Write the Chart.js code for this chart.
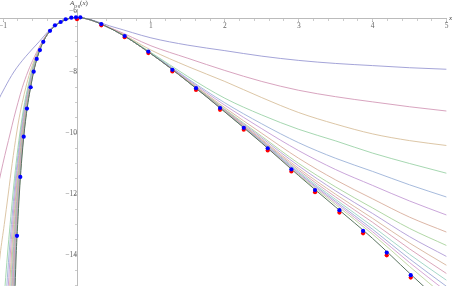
<!DOCTYPE html>
<html><head><meta charset="utf-8">
<script src="https://cdn.jsdelivr.net/npm/chart.js@4/dist/chart.umd.min.js"></script>
<style>
html,body{margin:0;padding:0;background:#fff;}
#wrap{position:relative;width:454px;height:286px;overflow:hidden;}
canvas{display:block;}
.lbl{position:absolute;font-family:"Liberation Serif","DejaVu Serif",serif;color:#444;font-size:7px;line-height:7px;white-space:nowrap;}
.lbl sub{font-size:4.5px;vertical-align:-1.5px;}
</style></head><body>
<div id="wrap"><canvas id="c" width="454" height="286"></canvas>
<div class="lbl" style="left:70px;top:0px;"><i>A</i><sub>reg</sub>(<i>x</i>)</div>
<div class="lbl" style="left:449px;top:15px;"><i>x</i></div>
</div>
<script>
// shared sample levels
const Y_LEFT  = [-16,-15,-14,-13,-12,-11,-10,-9.5,-9,-8.5,-8,-7.5,-7];
const X_RIGHT = [-0.35,-0.2,-0.1,0,0.5,1,1.5,2,2.5,3,3.5,4,4.5,5];

// limit curve
const limitLeftX  = [-0.851,-0.837,-0.823,-0.803,-0.780,-0.752,-0.715,-0.691,-0.663,-0.627,-0.587,-0.534,-0.455];
const limitRightY = [-6.607,-6.335,-6.24,-6.215,-6.63,-7.40,-8.32,-9.31,-10.33,-11.40,-12.43,-13.46,-14.60,-15.72];

// family of approximating curves: x at Y_LEFT levels (left branch), y at X_RIGHT (right branch)
const curveLeftX = [
  [-2.15,-2.0,-1.85,-1.7,-1.55,-1.4,-1.25,-1.17,-1.08,-0.974,-0.855,-0.697,-0.51],
  [-1.39,-1.32,-1.25,-1.17,-1.09,-1.002,-0.903,-0.853,-0.798,-0.739,-0.666,-0.576,-0.470],
  [-1.12,-1.08,-1.04,-0.984,-0.930,-0.877,-0.817,-0.782,-0.740,-0.692,-0.635,-0.560,-0.466],
  [-1.003,-0.973,-0.941,-0.905,-0.867,-0.824,-0.773,-0.743,-0.708,-0.665,-0.617,-0.554,-0.463],
  [-0.976,-0.949,-0.920,-0.887,-0.852,-0.811,-0.763,-0.734,-0.700,-0.658,-0.612,-0.551,-0.461],
  [-0.954,-0.929,-0.903,-0.872,-0.839,-0.801,-0.755,-0.726,-0.693,-0.653,-0.607,-0.548,-0.459],
  [-0.934,-0.911,-0.887,-0.859,-0.827,-0.791,-0.747,-0.719,-0.687,-0.648,-0.603,-0.545,-0.458],
  [-0.917,-0.896,-0.874,-0.847,-0.818,-0.783,-0.740,-0.713,-0.682,-0.644,-0.600,-0.543,-0.458],
  [-0.904,-0.884,-0.864,-0.838,-0.810,-0.777,-0.735,-0.709,-0.679,-0.640,-0.597,-0.541,-0.457],
  [-0.894,-0.875,-0.856,-0.832,-0.804,-0.772,-0.731,-0.705,-0.676,-0.638,-0.595,-0.540,-0.457],
  [-0.883,-0.866,-0.848,-0.825,-0.799,-0.767,-0.727,-0.702,-0.673,-0.635,-0.593,-0.538,-0.456],
  [-0.877,-0.860,-0.843,-0.820,-0.795,-0.764,-0.725,-0.700,-0.671,-0.633,-0.592,-0.537,-0.456],
  [-0.870,-0.854,-0.838,-0.816,-0.791,-0.761,-0.722,-0.697,-0.669,-0.632,-0.591,-0.537,-0.456],
  [-0.864,-0.849,-0.833,-0.812,-0.788,-0.758,-0.720,-0.696,-0.667,-0.630,-0.590,-0.536,-0.455],
  [-0.859,-0.844,-0.829,-0.808,-0.784,-0.756,-0.718,-0.694,-0.665,-0.629,-0.589,-0.535,-0.455]
];
const curveRightY = [
  [-6.57,-6.32,-6.235,-6.215,-6.53,-6.88,-7.12,-7.30,-7.48,-7.62,-7.72,-7.79,-7.86,-7.91],
  [-6.585,-6.33,-6.24,-6.215,-6.60,-7.14,-7.55,-7.95,-8.31,-8.60,-8.81,-8.98,-9.14,-9.28],
  [-6.595,-6.333,-6.24,-6.215,-6.61,-7.28,-7.82,-8.31,-8.84,-9.33,-9.71,-10.03,-10.25,-10.41],
  [-6.60,-6.335,-6.24,-6.215,-6.625,-7.36,-8.15,-8.86,-9.41,-9.88,-10.26,-10.66,-11.00,-11.32],
  [-6.607,-6.335,-6.24,-6.215,-6.63,-7.38,-8.22,-9.01,-9.70,-10.32,-10.83,-11.26,-11.70,-12.10],
  [-6.607,-6.335,-6.24,-6.215,-6.63,-7.39,-8.25,-9.09,-9.86,-10.58,-11.20,-11.72,-12.23,-12.69],
  [-6.607,-6.335,-6.24,-6.215,-6.63,-7.40,-8.28,-9.17,-10.01,-10.83,-11.54,-12.16,-12.76,-13.25],
  [-6.607,-6.335,-6.24,-6.215,-6.63,-7.40,-8.29,-9.22,-10.11,-11.00,-11.77,-12.46,-13.13,-13.69],
  [-6.607,-6.335,-6.24,-6.215,-6.63,-7.40,-8.30,-9.24,-10.16,-11.08,-11.90,-12.64,-13.40,-14.05],
  [-6.607,-6.335,-6.24,-6.215,-6.63,-7.40,-8.30,-9.26,-10.21,-11.16,-12.01,-12.80,-13.61,-14.34],
  [-6.607,-6.335,-6.24,-6.215,-6.63,-7.40,-8.31,-9.27,-10.24,-11.22,-12.10,-12.93,-13.80,-14.61],
  [-6.607,-6.335,-6.24,-6.215,-6.63,-7.40,-8.31,-9.28,-10.26,-11.27,-12.18,-13.06,-13.98,-14.83],
  [-6.607,-6.335,-6.24,-6.215,-6.63,-7.40,-8.315,-9.29,-10.28,-11.31,-12.24,-13.16,-14.13,-15.03],
  [-6.607,-6.335,-6.24,-6.215,-6.63,-7.40,-8.32,-9.30,-10.30,-11.34,-12.29,-13.24,-14.25,-15.20],
  [-6.607,-6.335,-6.24,-6.215,-6.63,-7.40,-8.32,-9.31,-10.32,-11.37,-12.35,-13.32,-14.38,-15.40]
];
const curveColors = ['#9a9ad4','#d49ab8','#d8c09c','#9cd2a8','#9cb2d8','#c49cd6','#d8ae9c','#a8d29c',
                     '#b09cd6','#d6b49c','#d69cb2','#9cd2c2','#9ca8d6','#d29cd0','#bcd29c'];

// sample points
const blueX = [-0.812,-0.767,-0.721,-0.677,-0.627,-0.586,-0.545,-0.501,-0.456,-0.365,-0.298,-0.221,-0.153,-0.077,-0.014,0.045,
               0.329,0.645,0.965,1.29,1.61,1.935,2.256,2.58,2.90,3.22,3.55,3.87,4.19,4.515];
const blueY = [-13.37,-11.44,-10.12,-9.20,-8.50,-7.99,-7.57,-7.28,-7.01,-6.65,-6.47,-6.36,-6.27,-6.22,-6.207,-6.207,
               -6.43,-6.82,-7.33,-7.93,-8.53,-9.18,-9.83,-10.50,-11.19,-11.87,-12.53,-13.21,-13.92,-14.66];
const redX = [0,0.329,0.645,0.965,1.29,1.61,1.935,2.256,2.58,2.90,3.22,3.55,3.87,4.19,4.515];
const redY = [-6.27,-6.47,-6.86,-7.38,-7.98,-8.59,-9.24,-9.89,-10.57,-11.26,-11.94,-12.61,-13.29,-14.01,-14.74];

const xTicksMajor = [-1,1,2,3,4,5];
const yTicksMajor = [-6,-8,-10,-12,-14];

function pts(leftX, rightY){
  const a = Y_LEFT.map((y,i)=>({x:leftX[i], y:y}));
  const b = X_RIGHT.map((x,i)=>({x:x, y:rightY[i]}));
  return a.concat(b);
}
const datasets = [];
datasets.push({label:'blue', data: blueX.map((x,i)=>({x, y:blueY[i]})), showLine:false,
  pointRadius:2.1, pointBackgroundColor:'#0000ff', pointBorderWidth:0, order:0});
datasets.push({label:'red', data: redX.map((x,i)=>({x, y:redY[i]})), showLine:false,
  pointRadius:2.1, pointBackgroundColor:'#ff0000', pointBorderWidth:0, order:1});
datasets.push({label:'limit', data: pts(limitLeftX, limitRightY), showLine:true, borderColor:'#5a7460',
  borderWidth:1, pointRadius:0, cubicInterpolationMode:'monotone', order:2});
curveLeftX.forEach((lx,k)=>{
  datasets.push({label:'c'+(k+1), data: pts(lx, curveRightY[k]), showLine:true, borderColor:curveColors[k],
    borderWidth:0.9, pointRadius:0, cubicInterpolationMode:'monotone', order:3+k});
});

const XMIN=-1.0417, XMAX=5, YMIN=-15.0164, YMAX=-5.9344, AXIS_Y=-6.262;
const font = {family:'"Liberation Serif", "DejaVu Serif", serif', size:7.5};
const noPad = s => { s.paddingLeft=0; s.paddingRight=0; s.paddingTop=0; s.paddingBottom=0; };
const fmt = v => (v<0 ? '\u2212'+Math.abs(v) : String(v));

new Chart(document.getElementById('c'), {
  type:'scatter',
  data:{datasets},
  options:{
    responsive:false, animation:false, devicePixelRatio:1,
    layout:{padding:{left:0,right:7.4,top:9,bottom:0}, autoPadding:false},
    plugins:{legend:{display:false}, tooltip:{enabled:false}},
    events:[],
    scales:{
      x:{type:'linear', min:XMIN, max:XMAX, position:{y:AXIS_Y},
        afterFit:noPad,
        afterBuildTicks:s=>{ s.ticks = xTicksMajor.map(v=>({value:v})); },
        ticks:{autoSkip:false, maxRotation:0, includeBounds:false, padding:0, color:'#666', font,
          callback:v=>fmt(v)},
        grid:{drawOnChartArea:false, tickLength:3, color:'#aaa'},
        border:{color:'#bbbbbb', width:1}},
      xm:{type:'linear', min:XMIN, max:XMAX, position:{y:AXIS_Y}, afterFit:noPad,
        ticks:{stepSize:0.2, includeBounds:false, autoSkip:false, callback:()=>'', font},
        grid:{drawOnChartArea:false, tickLength:2, color:'#cccccc'},
        border:{display:false}},
      y:{type:'linear', min:YMIN, max:YMAX, position:{x:0},
        afterFit:noPad,
        afterBuildTicks:s=>{ s.ticks = yTicksMajor.map(v=>({value:v})); },
        ticks:{autoSkip:false, includeBounds:false, padding:1, color:'#666', font,
          callback:v=>fmt(v)},
        grid:{drawOnChartArea:false, tickLength:3, color:'#aaa'},
        border:{color:'#bbbbbb', width:1}},
      ym:{type:'linear', min:YMIN, max:YMAX, position:{x:0}, afterFit:noPad,
        ticks:{stepSize:0.5, includeBounds:false, autoSkip:false, callback:()=>'', font},
        grid:{drawOnChartArea:false, tickLength:2, color:'#cccccc'},
        border:{display:false}}
    }
  }
});
</script>
</body></html>
